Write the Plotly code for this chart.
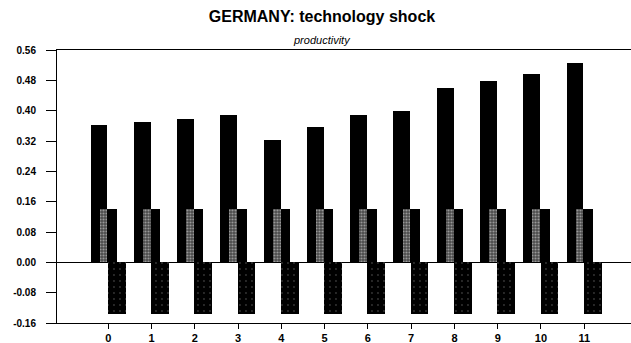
import plotly.graph_objects as go

# Quarters after the shock
periods = [0, 1, 2, 3, 4, 5, 6, 7, 8, 9, 10, 11]

# Productivity response (black bars)
productivity = [0.361, 0.370, 0.378, 0.389, 0.322, 0.356, 0.388, 0.399, 0.459, 0.479, 0.497, 0.527]
# Upper and lower bands (shaded bars)
upper_band = [0.140] * 12
lower_band = [-0.136] * 12

y_ticks = [-0.16, -0.08, 0.00, 0.08, 0.16, 0.24, 0.32, 0.40, 0.48, 0.56]

FONT = "Arial, Liberation Sans, sans-serif"

fig = go.Figure()

# main response bar, to the left of each tick
fig.add_trace(go.Bar(
    x=periods, y=productivity, offset=-0.41, width=0.39,
    marker=dict(color="black", line=dict(width=0)),
    name="productivity", showlegend=False,
))

# upper band, centred on the tick
fig.add_trace(go.Bar(
    x=periods, y=upper_band, offset=-0.2, width=0.4,
    marker=dict(color="black", line=dict(width=0)),
    name="upper", showlegend=False,
))
# speckled left half of the upper band
fig.add_trace(go.Bar(
    x=periods, y=upper_band, offset=-0.2, width=0.18,
    marker=dict(color="#6e6e6e", line=dict(width=0),
                pattern=dict(shape=".", fgcolor="#e6e6e6", bgcolor="#4a4a4a",
                             size=3, solidity=0.4)),
    name="upper shade", showlegend=False,
))

# lower band, to the right of each tick
fig.add_trace(go.Bar(
    x=periods, y=lower_band, offset=-0.01, width=0.41,
    marker=dict(color="black", line=dict(width=0),
                pattern=dict(shape=".", fgcolor="#6a6a6a", bgcolor="black",
                             size=6, solidity=0.08)),
    name="lower", showlegend=False,
))

fig.update_layout(
    width=631, height=343,
    margin=dict(l=57, r=0, t=50, b=20),
    barmode="overlay",
    bargap=0,
    plot_bgcolor="white",
    paper_bgcolor="white",
    font=dict(family=FONT, color="black"),
    title=dict(
        text="<b>GERMANY: technology shock</b>",
        font=dict(family=FONT, size=16, color="black"),
        x=322 / 631, xanchor="center", xref="container",
        y=1 - 16 / 343, yanchor="middle", yref="container",
    ),
    annotations=[dict(
        text="<i>productivity</i>",
        xref="paper", yref="paper",
        x=(322 - 57) / 574, y=1 + 10 / 273,
        xanchor="center", yanchor="middle",
        showarrow=False,
        font=dict(family=FONT, size=11, color="black"),
    )],
)

fig.update_xaxes(
    range=[-1.185, 12.08],
    tickmode="array", tickvals=periods, ticktext=[str(p) for p in periods],
    showline=True, linecolor="black", linewidth=1, mirror=True,
    ticks="outside", ticklen=5, tickcolor="black",
    showgrid=False, zeroline=False,
    tickfont=dict(family=FONT, size=11, color="black", weight="bold"),
)

fig.update_yaxes(
    range=[-0.16, 0.56],
    tickmode="array", tickvals=y_ticks, ticktext=[f"{v:.2f}" for v in y_ticks],
    showline=True, linecolor="black", linewidth=1,
    ticks="outside", ticklen=10, tickcolor="black",
    ticklabelstandoff=8,
    showgrid=False,
    zeroline=True, zerolinecolor="black", zerolinewidth=1,
    tickfont=dict(family=FONT, size=10, color="black", weight="bold"),
)

fig.write_html("out.html")
